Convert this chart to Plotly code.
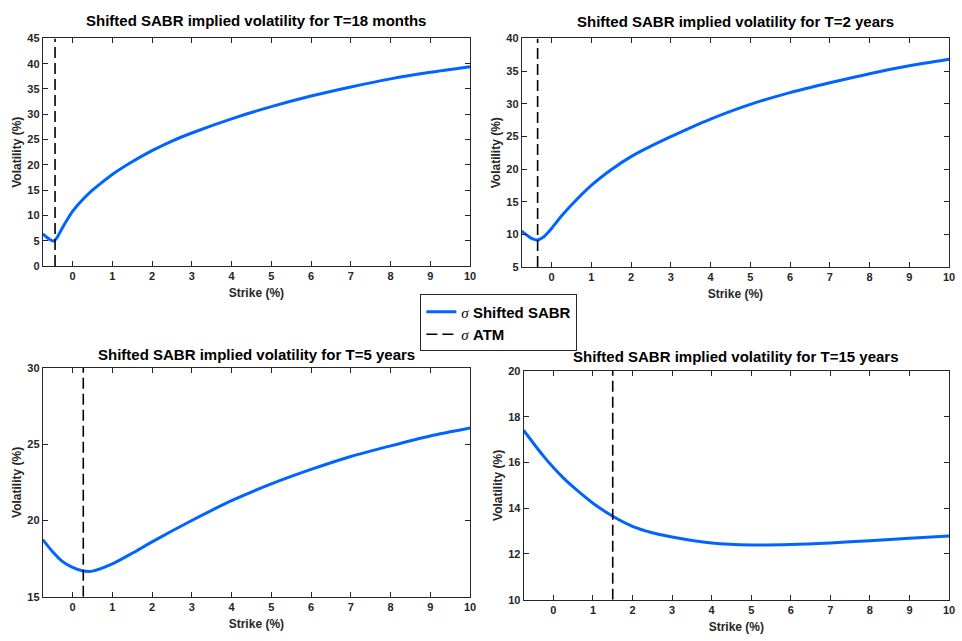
import plotly.graph_objects as go

W, H = 962, 641

# ---- data ----
titles = ["Shifted SABR implied volatility for T=18 months",
          "Shifted SABR implied volatility for T=2 years",
          "Shifted SABR implied volatility for T=5 years",
          "Shifted SABR implied volatility for T=15 years"]

k1 = [-0.75, -0.65, -0.55, -0.47, -0.4, -0.3, -0.2, -0.1, 0, 0.25, 0.5, 0.75, 1, 1.5, 2, 2.5, 3, 4, 5, 6, 7, 8, 9, 10]
v1 = [6.35, 5.7, 5.15, 4.95, 5.5, 6.9, 8.3, 9.6, 10.8, 13.1, 15.0, 16.6, 18.1, 20.6, 22.8, 24.7, 26.3, 29.1, 31.5, 33.6, 35.4, 37.0, 38.3, 39.4]

k2 = [-0.75, -0.6, -0.5, -0.36, -0.2, -0.1, 0, 0.25, 0.5, 1, 1.5, 2, 2.5, 3, 3.5, 4, 5, 6, 7, 8, 9, 10]
v2 = [10.5, 9.8, 9.4, 9.15, 9.6, 10.2, 10.9, 12.8, 14.5, 17.5, 19.9, 21.9, 23.5, 24.95, 26.35, 27.65, 29.9, 31.7, 33.2, 34.6, 35.8, 36.8]

k3 = [-0.75, -0.5, -0.25, 0, 0.25, 0.5, 1, 1.5, 2, 3, 4, 5, 6, 7, 8, 9, 10]
v3 = [18.75, 17.95, 17.3, 16.92, 16.7, 16.68, 17.15, 17.85, 18.6, 20.0, 21.3, 22.4, 23.35, 24.2, 24.9, 25.55, 26.07]

k4 = [-0.75, -0.5, -0.25, 0, 0.25, 0.5, 1, 1.5, 2, 2.5, 3, 4, 5, 6, 7, 8, 9, 10]
v4 = [17.4, 16.83, 16.28, 15.78, 15.33, 14.93, 14.22, 13.65, 13.21, 12.93, 12.74, 12.48, 12.39, 12.41, 12.48, 12.58, 12.69, 12.78]

atm = [-0.44, -0.35, 0.27, 1.5]
y_ranges = [[0, 45], [5, 40], [15, 30], [10, 20]]
y_dticks = [5, 5, 5, 2]
x_range = [-0.75, 10]

strikes = [k1, k2, k3, k4]
vols = [v1, v2, v3, v4]

# ---- layout geometry (pixels) ----
boxes = [  # left, right, top, bottom
    (43, 473, 33, 265),
    (525, 955, 33, 266),
    (43, 473, 369, 602),
    (527, 955, 372, 605),
]
title_y = [14.5, 15.5, 355, 357]

FONT = "Liberation Sans, Arial, Helvetica, sans-serif"
AX = "#262626"
BLUE = "#0064FF"
SIG = "<span style='font-family:Liberation Serif, Times New Roman, serif;font-style:italic;font-weight:normal'>σ</span>"

fig = go.Figure()
layout = dict(width=W, height=H, margin=dict(l=0, r=0, t=0, b=0),
              paper_bgcolor="white", plot_bgcolor="white",
              font=dict(family=FONT, color=AX), annotations=[])

for i in range(4):
    sfx = "" if i == 0 else str(i + 1)
    xa, ya = "x" + sfx, "y" + sfx
    l, r, t, b = boxes[i]
    fig.add_trace(go.Scatter(x=strikes[i], y=vols[i], mode="lines",
                             line=dict(color=BLUE, width=3, shape="spline", smoothing=0.7),
                             name=SIG + " Shifted SABR",
                             showlegend=(i == 0), xaxis=xa, yaxis=ya, hoverinfo="skip"))
    fig.add_trace(go.Scatter(x=[atm[i], atm[i]], y=y_ranges[i], mode="lines",
                             line=dict(color="black", width=1.6, dash="11px,5px"),
                             name=SIG + " ATM",
                             showlegend=(i == 0), xaxis=xa, yaxis=ya, hoverinfo="skip"))
    common = dict(showline=True, linecolor=AX, linewidth=1, mirror="ticks",
                  ticks="inside", ticklen=5, tickcolor=AX, tickwidth=1,
                  showgrid=False, zeroline=False,
                  tickfont=dict(family=FONT, size=11, color=AX, weight="bold"))
    layout["xaxis" + sfx] = dict(domain=[l / W, r / W], anchor=ya, range=x_range,
                                 tick0=0, dtick=1,
                                 title=dict(text="Strike (%)", standoff=7,
                                            font=dict(family=FONT, size=12, color=AX, weight="bold")),
                                 **common)
    layout["yaxis" + sfx] = dict(domain=[1 - b / H, 1 - t / H], anchor=xa, range=y_ranges[i],
                                 dtick=y_dticks[i],
                                 title=dict(text="Volatility (%)", standoff=3,
                                            font=dict(family=FONT, size=12, color=AX, weight="bold")),
                                 **common)
    layout["annotations"].append(dict(text="<b>%s</b>" % titles[i], xref="paper", yref="paper",
                                      x=(l + r) / 2 / W, y=1 - title_y[i] / H,
                                      xanchor="center", yanchor="middle", showarrow=False,
                                      font=dict(family=FONT, size=15, color="black")))

layout["legend"] = dict(x=423 / W, y=1 - 294 / H, xanchor="left", yanchor="top",
                        bgcolor="white", bordercolor=AX, borderwidth=1,
                        font=dict(family=FONT, size=15, color="black", weight="bold"),
                        tracegroupgap=0, itemwidth=30)
fig.update_layout(**layout)
fig.write_html("out.html")
